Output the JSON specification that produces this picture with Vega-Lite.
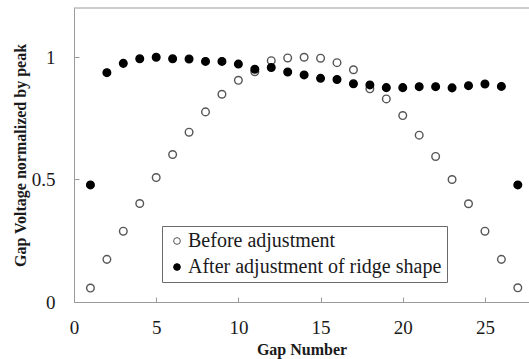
{
  "$schema": "https://vega.github.io/schema/vega-lite/v6.json",
  "width": 455,
  "height": 294,
  "autosize": "none",
  "padding": {"left": 74, "top": 8, "right": 0, "bottom": 57},
  "background": "white",
  "config": {
    "view": {"stroke": null},
    "font": "Liberation Serif",
    "axis": {
      "domainColor": "#9a9a9a",
      "tickColor": "#9a9a9a",
      "tickSize": -5,
      "grid": false,
      "labelFont": "Liberation Serif",
      "labelFontSize": 19,
      "labelColor": "#1a1a1a",
      "titleFont": "Liberation Serif",
      "titleFontSize": 16,
      "titleFontWeight": "bold",
      "titleColor": "#1a1a1a"
    },
    "legend": {
      "labelFont": "Liberation Serif",
      "labelFontSize": 20,
      "labelColor": "#1a1a1a",
      "labelLimit": 0
    }
  },
  "datasets": {
    "gaps": [
      {"gap": 1, "v": 0.057, "series": "Before adjustment"},
      {"gap": 2, "v": 0.174, "series": "Before adjustment"},
      {"gap": 3, "v": 0.289, "series": "Before adjustment"},
      {"gap": 4, "v": 0.402, "series": "Before adjustment"},
      {"gap": 5, "v": 0.508, "series": "Before adjustment"},
      {"gap": 6, "v": 0.602, "series": "Before adjustment"},
      {"gap": 7, "v": 0.693, "series": "Before adjustment"},
      {"gap": 8, "v": 0.776, "series": "Before adjustment"},
      {"gap": 9, "v": 0.848, "series": "Before adjustment"},
      {"gap": 10, "v": 0.905, "series": "Before adjustment"},
      {"gap": 11, "v": 0.94, "series": "Before adjustment"},
      {"gap": 12, "v": 0.985, "series": "Before adjustment"},
      {"gap": 13, "v": 0.996, "series": "Before adjustment"},
      {"gap": 14, "v": 0.999, "series": "Before adjustment"},
      {"gap": 15, "v": 0.995, "series": "Before adjustment"},
      {"gap": 16, "v": 0.977, "series": "Before adjustment"},
      {"gap": 17, "v": 0.948, "series": "Before adjustment"},
      {"gap": 18, "v": 0.87, "series": "Before adjustment"},
      {"gap": 19, "v": 0.829, "series": "Before adjustment"},
      {"gap": 20, "v": 0.761, "series": "Before adjustment"},
      {"gap": 21, "v": 0.681, "series": "Before adjustment"},
      {"gap": 22, "v": 0.594, "series": "Before adjustment"},
      {"gap": 23, "v": 0.5, "series": "Before adjustment"},
      {"gap": 24, "v": 0.401, "series": "Before adjustment"},
      {"gap": 25, "v": 0.289, "series": "Before adjustment"},
      {"gap": 26, "v": 0.174, "series": "Before adjustment"},
      {"gap": 27, "v": 0.058, "series": "Before adjustment"},
      {"gap": 1, "v": 0.478, "series": "After adjustment of ridge shape"},
      {"gap": 2, "v": 0.936, "series": "After adjustment of ridge shape"},
      {"gap": 3, "v": 0.974, "series": "After adjustment of ridge shape"},
      {"gap": 4, "v": 0.993, "series": "After adjustment of ridge shape"},
      {"gap": 5, "v": 0.999, "series": "After adjustment of ridge shape"},
      {"gap": 6, "v": 0.993, "series": "After adjustment of ridge shape"},
      {"gap": 7, "v": 0.992, "series": "After adjustment of ridge shape"},
      {"gap": 8, "v": 0.982, "series": "After adjustment of ridge shape"},
      {"gap": 9, "v": 0.982, "series": "After adjustment of ridge shape"},
      {"gap": 10, "v": 0.971, "series": "After adjustment of ridge shape"},
      {"gap": 11, "v": 0.95, "series": "After adjustment of ridge shape"},
      {"gap": 12, "v": 0.957, "series": "After adjustment of ridge shape"},
      {"gap": 13, "v": 0.939, "series": "After adjustment of ridge shape"},
      {"gap": 14, "v": 0.927, "series": "After adjustment of ridge shape"},
      {"gap": 15, "v": 0.913, "series": "After adjustment of ridge shape"},
      {"gap": 16, "v": 0.908, "series": "After adjustment of ridge shape"},
      {"gap": 17, "v": 0.891, "series": "After adjustment of ridge shape"},
      {"gap": 18, "v": 0.886, "series": "After adjustment of ridge shape"},
      {"gap": 19, "v": 0.875, "series": "After adjustment of ridge shape"},
      {"gap": 20, "v": 0.875, "series": "After adjustment of ridge shape"},
      {"gap": 21, "v": 0.879, "series": "After adjustment of ridge shape"},
      {"gap": 22, "v": 0.879, "series": "After adjustment of ridge shape"},
      {"gap": 23, "v": 0.874, "series": "After adjustment of ridge shape"},
      {"gap": 24, "v": 0.883, "series": "After adjustment of ridge shape"},
      {"gap": 25, "v": 0.89, "series": "After adjustment of ridge shape"},
      {"gap": 26, "v": 0.88, "series": "After adjustment of ridge shape"},
      {"gap": 27, "v": 0.478, "series": "After adjustment of ridge shape"}
    ],
    "frame": [{"top": 1.2}]
  },
  "layer": [
    {
      "data": {"name": "frame"},
      "mark": {"type": "rule", "color": "#9a9a9a", "strokeWidth": 1},
      "encoding": {
        "y": {"field": "top", "type": "quantitative", "scale": {"domain": [0, 1.2]}}
      }
    },
    {
      "data": {"name": "gaps"},
      "mark": {"type": "point", "filled": false, "shape": "circle", "size": 58, "strokeWidth": 1.4, "opacity": 1},
      "encoding": {
        "x": {
          "field": "gap", "type": "quantitative",
          "scale": {"domain": [0, 27.68], "nice": false},
          "axis": {"values": [0, 5, 10, 15, 20, 25], "title": "Gap Number", "labelPadding": 21, "titlePadding": 4, "labelFlush": false}
        },
        "y": {
          "field": "v", "type": "quantitative",
          "scale": {"domain": [0, 1.2], "nice": false},
          "axis": {"values": [0, 0.5, 1], "format": ".1~f", "title": "Gap Voltage normalized by peak", "labelPadding": 24, "titlePadding": 3}
        },
        "fill": {
          "field": "series", "type": "nominal",
          "scale": {"domain": ["Before adjustment", "After adjustment of ridge shape"], "range": ["white", "black"]},
          "legend": {
            "title": null, "orient": "none", "legendX": 88, "legendY": 218,
            "strokeColor": "#6a6a6a", "padding": 5, "rowPadding": 6, "symbolSize": 45,
            "labelOffset": 1, "symbolStrokeWidth": 1, "fillColor": "white"
          }
        },
        "stroke": {
          "field": "series", "type": "nominal",
          "scale": {"domain": ["Before adjustment", "After adjustment of ridge shape"], "range": ["#555555", "black"]},
          "legend": {
            "title": null, "orient": "none", "legendX": 88, "legendY": 218,
            "strokeColor": "#6a6a6a", "padding": 5, "rowPadding": 6, "symbolSize": 45,
            "labelOffset": 1, "symbolStrokeWidth": 1, "fillColor": "white"
          }
        }
      }
    }
  ]
}
